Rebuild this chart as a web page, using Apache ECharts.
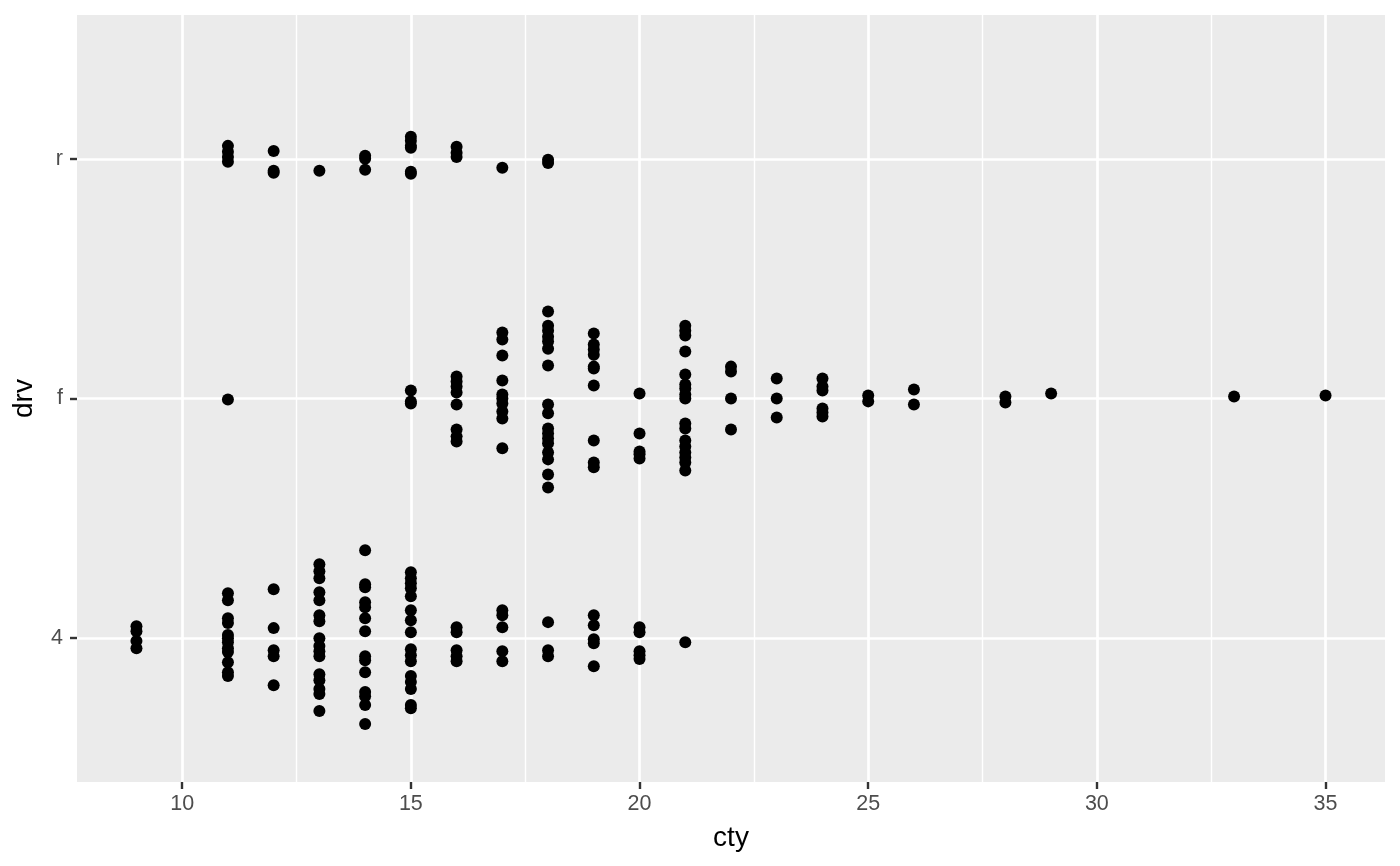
<!DOCTYPE html>
<html>
<head>
<meta charset="utf-8">
<script src="https://cdn.jsdelivr.net/npm/echarts@6/dist/echarts.min.js"></script>
<style>
  html, body { margin: 0; padding: 0; background: #fff; }
  #chart { width: 1400px; height: 866px; }
</style>
</head>
<body>
<div id="chart"></div>
<script>
// drv categories, bottom to top
var drvLevels = ['4', 'f', 'r'];
var xMajor = [10, 15, 20, 25, 30, 35];
var xMinor = [12.5, 17.5, 22.5, 27.5, 32.5];

// drv = 4 : cty and jittered vertical position
var ctyFour = [9, 9, 9, 9,
  11, 11, 11, 11, 11, 11, 11, 11, 11, 11, 11, 11,
  12, 12, 12, 12, 12,
  13, 13, 13, 13, 13, 13, 13, 13, 13, 13, 13, 13, 13, 13, 13, 13,
  14, 14, 14, 14, 14, 14, 14, 14, 14, 14, 14, 14, 14, 14,
  15, 15, 15, 15, 15, 15, 15, 15, 15, 15, 15, 15, 15, 15, 15, 15,
  16, 16, 16, 16, 16,
  17, 17, 17, 17, 17,
  18, 18, 18,
  19, 19, 19, 19, 19,
  20, 20, 20, 20, 20,
  21];
var posFour = [1.050, 1.029, 0.988, 0.958,
  1.188, 1.158, 1.083, 1.063, 1.013, 1.000, 0.983, 0.958, 0.942, 0.900, 0.858, 0.842,
  1.204, 1.042, 0.950, 0.925, 0.804,
  1.308, 1.279, 1.250, 1.192, 1.158, 1.096, 1.071, 1.000, 0.967, 0.946, 0.925, 0.850, 0.825, 0.788, 0.767, 0.696,
  1.367, 1.225, 1.213, 1.150, 1.129, 1.083, 1.029, 0.925, 0.908, 0.858, 0.775, 0.758, 0.721, 0.642,
  1.275, 1.250, 1.229, 1.208, 1.175, 1.117, 1.075, 1.025, 0.954, 0.929, 0.904, 0.842, 0.817, 0.788, 0.721, 0.708,
  1.046, 1.025, 0.950, 0.925, 0.904,
  1.117, 1.096, 1.046, 0.946, 0.904,
  1.067, 0.950, 0.925,
  1.096, 1.054, 0.996, 0.979, 0.883,
  1.046, 1.025, 0.946, 0.929, 0.913,
  0.983];

// drv = f
var ctyF = [11,
  15, 15, 15,
  16, 16, 16, 16, 16, 16, 16, 16,
  17, 17, 17, 17, 17, 17, 17, 17, 17, 17,
  18, 18, 18, 18, 18, 18, 18, 18, 18, 18, 18, 18, 18, 18, 18, 18, 18,
  19, 19, 19, 19, 19, 19, 19, 19, 19, 19,
  20, 20, 20, 20, 20,
  21, 21, 21, 21, 21, 21, 21, 21, 21, 21, 21, 21, 21, 21, 21, 21, 21,
  22, 22, 22, 22,
  23, 23, 23,
  24, 24, 24, 24, 24, 24,
  25, 25,
  26, 26,
  28, 28,
  29, 33, 35];
var posF = [1.996,
  2.033, 1.988, 1.979,
  2.092, 2.071, 2.050, 2.025, 1.975, 1.871, 1.842, 1.821,
  2.275, 2.246, 2.179, 2.075, 2.017, 2.000, 1.979, 1.946, 1.917, 1.792,
  2.363, 2.304, 2.283, 2.258, 2.238, 2.208, 2.138, 1.975, 1.938, 1.875, 1.854, 1.833, 1.813, 1.775, 1.746, 1.683, 1.629,
  2.271, 2.225, 2.204, 2.183, 2.133, 2.125, 2.054, 1.825, 1.733, 1.713,
  2.021, 1.854, 1.779, 1.767, 1.750,
  2.304, 2.283, 2.263, 2.196, 2.100, 2.058, 2.042, 2.017, 2.000, 1.896, 1.875, 1.825, 1.800, 1.775, 1.754, 1.733, 1.700,
  2.133, 2.113, 2.000, 1.871,
  2.083, 2.000, 1.921,
  2.083, 2.050, 2.033, 1.958, 1.942, 1.925,
  2.013, 1.988,
  2.038, 1.975,
  2.008, 1.983,
  2.021, 2.008, 2.013];

// drv = r
var ctyR = [11, 11, 11, 11,
  12, 12, 12,
  13,
  14, 14, 14,
  15, 15, 15, 15, 15, 15,
  16, 16, 16,
  17,
  18, 18];
var posR = [3.054, 3.029, 3.008, 2.988,
  3.033, 2.950, 2.942,
  2.950,
  3.013, 3.000, 2.954,
  3.092, 3.075, 3.054, 3.046, 2.946, 2.938,
  3.050, 3.025, 3.008,
  2.963,
  2.996, 2.983];

function pairs(xs, ys) {
  return xs.map(function (x, i) { return [x, ys[i]]; });
}
var points = pairs(ctyFour, posFour).concat(pairs(ctyF, posF), pairs(ctyR, posR));

var chart = echarts.init(document.getElementById('chart'), null, { renderer: 'canvas' });
var font = 'Liberation Sans, Arial, sans-serif';
chart.setOption({
  animation: false,
  backgroundColor: '#ffffff',
  grid: {
    left: 77, right: 15, top: 15, bottom: 84,
    show: true, backgroundColor: '#EBEBEB', borderWidth: 0
  },
  xAxis: [{
    type: 'value', min: 7.7, max: 36.3,
    name: 'cty', nameLocation: 'middle', nameGap: 42,
    nameTextStyle: { fontFamily: font, fontSize: 28, color: '#000' },
    axisLine: { show: false },
    axisTick: { show: true, length: 7, lineStyle: { color: '#333333', width: 2.4 }, customValues: xMajor },
    axisLabel: { fontFamily: font, fontSize: 21.5, color: '#4D4D4D', margin: 11, customValues: xMajor },
    splitLine: { show: true, lineStyle: { color: '#ffffff', width: 2.7 } }
  }, {
    type: 'value', min: 7.7, max: 36.3, position: 'bottom',
    axisLine: { show: false },
    axisTick: { show: false, customValues: xMinor },
    axisLabel: { show: false, customValues: xMinor },
    splitLine: { show: true, lineStyle: { color: '#ffffff', width: 1.4 } }
  }],
  yAxis: {
    type: 'value', min: 0.4, max: 3.6,
    name: 'drv', nameLocation: 'middle', nameGap: 39, nameRotate: 90,
    nameTextStyle: { fontFamily: font, fontSize: 28, color: '#000' },
    axisLine: { show: false },
    axisTick: { show: true, length: 7, lineStyle: { color: '#333333', width: 2.4 }, customValues: [1, 2, 3] },
    axisLabel: {
      fontFamily: font, fontSize: 21.5, color: '#4D4D4D', margin: 14,
      customValues: [1, 2, 3],
      formatter: function (v) { return drvLevels[Math.round(v) - 1] || ''; }
    },
    splitLine: { show: true, lineStyle: { color: '#ffffff', width: 2.7 } }
  },
  series: [{
    type: 'scatter',
    xAxisIndex: 0,
    data: points,
    symbol: 'circle',
    symbolSize: 12,
    itemStyle: { color: '#000000', opacity: 1 }
  }]
});
</script>
</body>
</html>
